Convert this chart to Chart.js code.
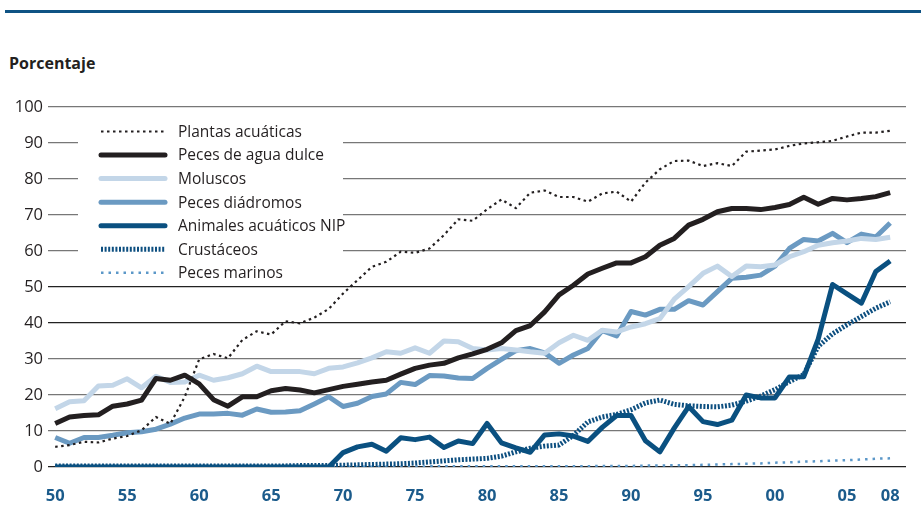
<!DOCTYPE html>
<html>
<head>
<meta charset="utf-8">
<script src="https://cdn.jsdelivr.net/npm/chart.js@4/dist/chart.umd.min.js"></script>
<style>
    html, body { margin: 0; padding: 0; background: #fff; }
    #wrap { position: relative; width: 921px; height: 505px; overflow: hidden; }
    #rule { position: absolute; left: 5px; top: 10px; width: 916px; height: 3px; background: #0f5384; }
    #ylab { position: absolute; left: 9px; top: 52px; font: bold 16px "Open Sans", sans-serif; color: #231f20; }
    canvas { position: absolute; left: 0; top: 0; }
</style>
</head>
<body>
<div id="wrap">
    <div id="rule"></div>
    <div id="ylab">Porcentaje</div>
    <canvas id="chart" width="921" height="505"></canvas>
</div>
<script>
const years = [1950, 1951, 1952, 1953, 1954, 1955, 1956, 1957, 1958, 1959,
    1960, 1961, 1962, 1963, 1964, 1965, 1966, 1967, 1968, 1969,
    1970, 1971, 1972, 1973, 1974, 1975, 1976, 1977, 1978, 1979,
    1980, 1981, 1982, 1983, 1984, 1985, 1986, 1987, 1988, 1989,
    1990, 1991, 1992, 1993, 1994, 1995, 1996, 1997, 1998, 1999,
    2000, 2001, 2002, 2003, 2004, 2005, 2006, 2007, 2008];

const tickYears = [1950, 1955, 1960, 1965, 1970, 1975, 1980, 1985, 1990, 1995, 2000, 2005, 2008];
const tickLabels = ['50', '55', '60', '65', '70', '75', '80', '85', '90', '95', '00', '05', '08'];

const plantasAcuaticas = [5.6, 6.1, 7.0, 6.8, 7.9, 8.6, 10.2, 13.9, 12.0, 19.5,
    29.9, 31.4, 30.2, 35.3, 37.7, 36.8, 40.5, 39.9, 41.5, 43.9,
    48.2, 51.9, 55.6, 57.0, 59.8, 59.5, 60.7, 64.4, 68.8, 68.4,
    71.6, 74.3, 71.9, 76.2, 76.8, 75.0, 75.0, 73.7, 76.0, 76.5,
    73.7, 79.0, 82.7, 85.0, 85.1, 83.6, 84.4, 83.6, 87.6, 87.9,
    88.2, 89.2, 89.9, 90.2, 90.6, 91.8, 92.9, 92.9, 93.4];

const pecesAguaDulce = [12.1, 13.9, 14.3, 14.5, 16.9, 17.5, 18.6, 24.6, 24.1, 25.5,
    23.1, 18.7, 16.9, 19.5, 19.5, 21.2, 21.8, 21.4, 20.6, 21.5,
    22.4, 23.0, 23.6, 24.1, 25.8, 27.4, 28.3, 28.8, 30.3, 31.4,
    32.7, 34.5, 37.9, 39.3, 43.1, 47.8, 50.5, 53.6, 55.2, 56.7,
    56.7, 58.4, 61.6, 63.5, 67.2, 68.8, 70.9, 71.8, 71.8, 71.5,
    72.1, 72.9, 74.9, 73.0, 74.6, 74.2, 74.6, 75.1, 76.2];

const moluscos = [16.2, 18.1, 18.4, 22.5, 22.7, 24.5, 22.0, 25.2, 23.5, 23.6,
    25.5, 24.1, 24.8, 25.9, 28.0, 26.5, 26.5, 26.5, 25.9, 27.4,
    27.8, 28.9, 30.3, 32.0, 31.6, 33.1, 31.6, 35.0, 34.8, 32.9,
    32.5, 32.9, 32.5, 32.0, 31.6, 34.5, 36.6, 35.2, 38.0, 37.5,
    38.9, 39.8, 41.2, 46.6, 50.1, 53.8, 55.8, 52.9, 55.8, 55.6,
    56.1, 58.4, 59.8, 61.6, 62.3, 62.8, 63.5, 63.2, 63.8];

const pecesDiadromos = [8.2, 6.6, 8.2, 8.2, 8.8, 9.5, 9.8, 10.5, 11.9, 13.6,
    14.7, 14.7, 14.9, 14.4, 16.1, 15.2, 15.3, 15.6, 17.5, 19.5,
    16.8, 17.7, 19.6, 20.3, 23.5, 22.9, 25.4, 25.3, 24.7, 24.6,
    27.4, 29.9, 32.3, 32.9, 31.7, 28.8, 31.1, 32.9, 37.9, 36.4,
    43.2, 42.2, 43.8, 43.8, 46.2, 45.0, 48.7, 52.4, 52.7, 53.3,
    55.8, 60.7, 63.2, 62.8, 64.9, 62.3, 64.7, 63.9, 67.8];

const animalesNip = [0, 0, 0, 0, 0, 0, 0, 0, 0, 0,
    0, 0, 0, 0, 0, 0, 0, 0, 0, 0,
    4.0, 5.6, 6.3, 4.4, 8.1, 7.6, 8.3, 5.4, 7.2, 6.5,
    12.1, 6.7, 5.3, 4.1, 8.9, 9.2, 8.6, 7.1, 11.0, 14.3,
    14.3, 7.3, 4.2, 10.8, 16.8, 12.6, 11.8, 13.0, 20.0, 19.2,
    19.2, 25.0, 25.1, 35.5, 50.7, 48.1, 45.5, 54.3, 57.2];

const crustaceos = [0.3, 0.3, 0.3, 0.3, 0.3, 0.3, 0.3, 0.3, 0.3, 0.3,
    0.3, 0.3, 0.3, 0.3, 0.3, 0.3, 0.3, 0.4, 0.4, 0.4,
    0.5, 0.6, 0.7, 0.8, 0.9, 1.1, 1.4, 1.7, 2.0, 2.2,
    2.4, 3.0, 4.2, 5.2, 5.8, 6.1, 8.8, 12.5, 13.9, 14.6,
    15.9, 17.8, 18.6, 17.4, 17.0, 16.8, 16.7, 17.2, 18.3, 19.7,
    21.5, 23.7, 25.7, 33.5, 37.0, 39.5, 41.8, 44.1, 45.9];

const pecesMarinos = [0.1, 0.1, 0.1, 0.1, 0.1, 0.1, 0.1, 0.1, 0.1, 0.1,
    0.1, 0.1, 0.1, 0.1, 0.1, 0.1, 0.1, 0.1, 0.1, 0.1,
    0.1, 0.1, 0.1, 0.1, 0.1, 0.1, 0.2, 0.2, 0.2, 0.2,
    0.2, 0.2, 0.2, 0.2, 0.2, 0.2, 0.2, 0.2, 0.3, 0.3,
    0.3, 0.4, 0.4, 0.5, 0.5, 0.6, 0.7, 0.8, 0.9, 1.0,
    1.2, 1.3, 1.5, 1.6, 1.8, 1.9, 2.1, 2.3, 2.4];

const FONT = '"Open Sans", "Noto Sans", sans-serif';

function pts(arr) {
    return arr.map((v, i) => ({ x: years[i], y: v }));
}

// legend drawn inside the plot, over the gridlines
const legendBox = {
    id: 'legendBox',
    beforeDatasetsDraw(chart) {
        const c = chart.ctx;
        c.save();
        c.fillStyle = '#fff';
        c.fillRect(78, 118, 265, 166);
        chart.data.datasets.forEach((ds, i) => {
            const y = 131.5 + i * 23.55;
            c.beginPath();
            c.strokeStyle = ds.borderColor;
            c.lineWidth = ds.borderWidth;
            c.setLineDash(ds.borderDash || []);
            c.lineCap = ds.borderDash ? 'butt' : 'round';
            c.moveTo(101, y);
            c.lineTo(165, y);
            c.stroke();
            c.setLineDash([]);
            c.fillStyle = '#231f20';
            c.font = '15.5px ' + FONT;
            c.textBaseline = 'middle';
            c.fillText(ds.label, 178, y + 1);
        });
        c.restore();
    }
};

const ctx = document.getElementById('chart').getContext('2d');
new Chart(ctx, {
    type: 'line',
    data: {
        datasets: [
            { label: 'Plantas acuáticas', data: pts(plantasAcuaticas), borderColor: '#231f20', borderWidth: 2.2, borderDash: [2.5, 3.5] },
            { label: 'Peces de agua dulce', data: pts(pecesAguaDulce), borderColor: '#231f20', borderWidth: 5 },
            { label: 'Moluscos', data: pts(moluscos), borderColor: '#c3d6e8', borderWidth: 5 },
            { label: 'Peces diádromos', data: pts(pecesDiadromos), borderColor: '#6b9ac2', borderWidth: 5 },
            { label: 'Animales acuáticos NIP', data: pts(animalesNip), borderColor: '#0a5080', borderWidth: 5 },
            { label: 'Crustáceos', data: pts(crustaceos), borderColor: '#0d4f80', borderWidth: 5, borderDash: [2, 1.6] },
            { label: 'Peces marinos', data: pts(pecesMarinos), borderColor: '#5b97c8', borderWidth: 2.5, borderDash: [2.5, 5] }
        ]
    },
    options: {
        responsive: false,
        animation: false,
        layout: { padding: { top: 107, right: 15, left: 0, bottom: 0 } },
        elements: {
            point: { radius: 0 },
            line: { tension: 0, borderCapStyle: 'butt', borderJoinStyle: 'round' }
        },
        plugins: {
            legend: { display: false },
            tooltip: { enabled: false }
        },
        scales: {
            x: {
                type: 'linear',
                min: 1949.5,
                max: 2009.1,
                afterBuildTicks: function (scale) {
                    scale.ticks = tickYears.map(v => ({ value: v }));
                },
                afterFit: function (scale) { scale.height = 38; },
                ticks: {
                    autoSkip: false,
                    maxRotation: 0,
                    padding: 19,
                    color: '#1b5b8b',
                    font: { family: FONT, size: 16.5, weight: 'bold' },
                    callback: function (value) {
                        return tickLabels[tickYears.indexOf(value)];
                    }
                },
                grid: { display: false, drawTicks: false },
                border: { display: false }
            },
            y: {
                min: 0,
                max: 100,
                afterFit: function (scale) { scale.width = 48; },
                ticks: {
                    stepSize: 10,
                    padding: 5,
                    color: '#231f20',
                    font: { family: FONT, size: 16.5 }
                },
                grid: {
                    drawTicks: false,
                    lineWidth: 1.2,
                    color: function (c) {
                        const v = c.tick.value;
                        return (v === 0 || v === 40 || v === 50) ? '#222' : '#777';
                    }
                },
                border: { display: false }
            }
        }
    },
    plugins: [legendBox]
});
</script>
</body>
</html>
